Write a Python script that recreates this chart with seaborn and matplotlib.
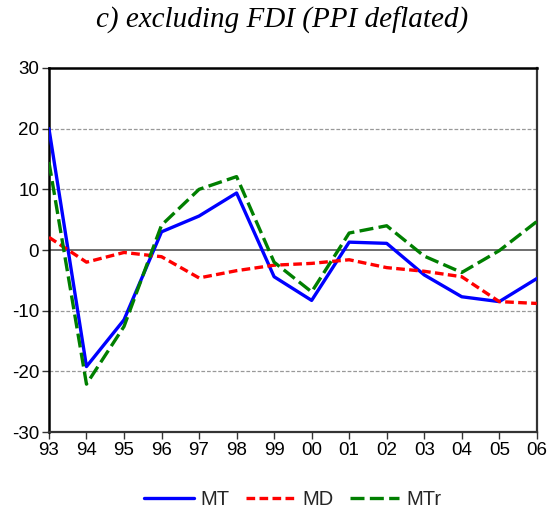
import matplotlib
matplotlib.use("Agg")
import matplotlib.pyplot as plt
import seaborn as sns
import pandas as pd
import numpy as np

years = ["93", "94", "95", "96", "97", "98", "99", "00", "01", "02", "03", "04", "05", "06"]
mt = [20.0, -19.2, -11.5, 3.0, 5.6, 9.4, -4.4, -8.3, 1.3, 1.1, -4.1, -7.7, -8.5, -4.7]
md = [2.1, -2.0, -0.4, -1.1, -4.6, -3.4, -2.5, -2.2, -1.6, -2.9, -3.5, -4.4, -8.5, -8.8]
mtr = [14.5, -22.1, -12.6, 4.1, 10.0, 12.1, -2.0, -6.9, 2.8, 4.0, -1.0, -3.7, -0.1, 4.7]

sns.set_theme(style="white")
plt.rcParams['font.family'] = ['Liberation Sans', 'DejaVu Sans']
plt.rcParams['axes.unicode_minus'] = False

fig = plt.figure(figsize=(5.5, 5.15), dpi=100)
ax = fig.add_axes([0.089, 0.161, 0.887, 0.707])

idx = np.arange(len(years))
df = pd.DataFrame({"idx": idx, "MT": mt, "MD": md, "MTr": mtr})

for v in [-20, -10, 10, 20]:
    ax.axhline(v, color="#999999", lw=0.9, ls=(0, (3, 1.5)), zorder=1)
ax.axhline(0, color="#555555", lw=1.2, zorder=1)

sns.lineplot(data=df, x="idx", y="MT", ax=ax, color="#0000ff", lw=2.4, label="MT", zorder=3)
sns.lineplot(data=df, x="idx", y="MD", ax=ax, color="#ff0000", lw=2.4, label="MD", zorder=3,
             linestyle=(0, (2.6, 1.3)))
sns.lineplot(data=df, x="idx", y="MTr", ax=ax, color="#007f00", lw=2.4, label="MTr", zorder=4,
             linestyle=(0, (4.2, 1.6)))

ax.set_xlim(0, len(years) - 1)
ax.set_ylim(-30, 30)
ax.set_xticks(idx)
ax.set_xticklabels(years)
ax.set_yticks([-30, -20, -10, 0, 10, 20, 30])
ax.set_xlabel("")
ax.set_ylabel("")
ax.tick_params(axis="both", which="both", direction="out", length=5, width=1,
               labelsize=13.5, colors="#333333", labelcolor="black",
               bottom=True, left=True, pad=2)

for s in ["left", "top"]:
    ax.spines[s].set_color("black")
    ax.spines[s].set_linewidth(1.8)
for s in ["right", "bottom"]:
    ax.spines[s].set_color("#333333")
    ax.spines[s].set_linewidth(1.6)

fig.text(282.5 / 550, 1 - 20 / 515, "c) excluding FDI (PPI deflated)", fontsize=21,
         style="italic", color="black", ha="center", va="center",
         family=["Liberation Serif", "DejaVu Serif"])

leg = ax.legend(loc="upper center", bbox_to_anchor=(0.5, -0.11), ncol=3, frameon=False,
                fontsize=14.5, handlelength=2.45, columnspacing=0.8, handletextpad=0.35)

fig.savefig("out.png", dpi=100)
